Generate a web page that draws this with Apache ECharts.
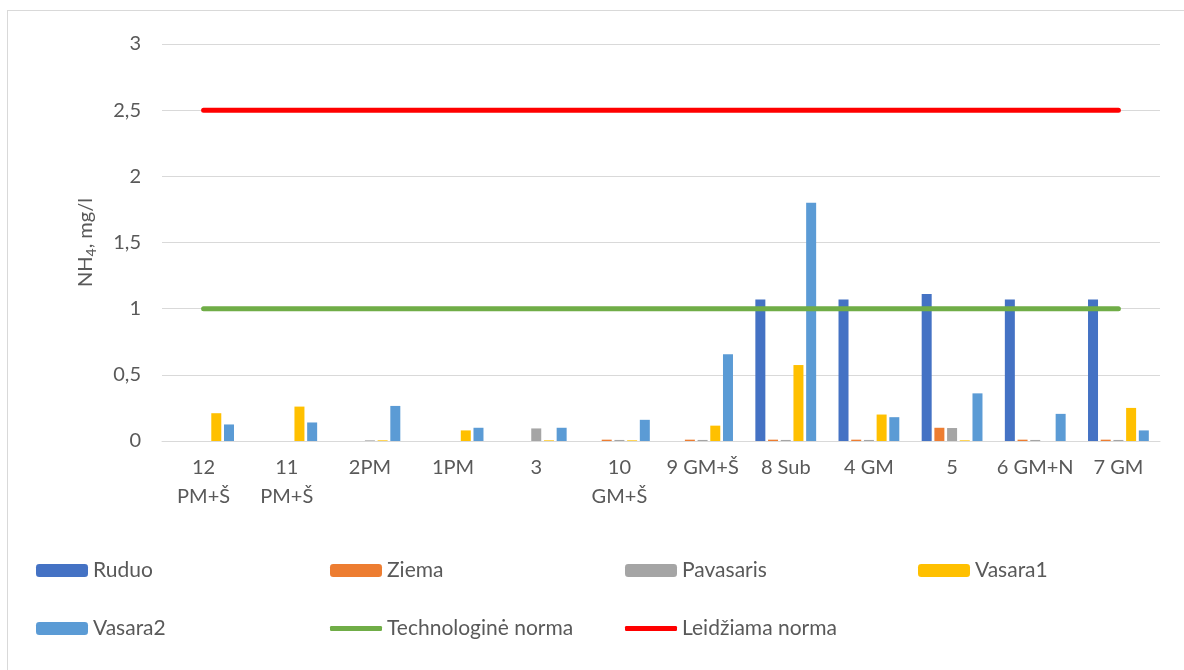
<!DOCTYPE html>
<html>
<head>
<meta charset="utf-8">
<script src="https://cdn.jsdelivr.net/npm/echarts@6/dist/echarts.min.js"></script>
<style>
  html, body { margin: 0; padding: 0; background: #fff; }
  #frame { position: absolute; left: 7px; top: 10px; width: 1200px; height: 700px;
           border-left: 1px solid #d9d9d9; border-top: 1px solid #d9d9d9; }
  #main { position: absolute; left: 0; top: 0; width: 1184px; height: 670px; }
</style>
</head>
<body>
<div id="frame"></div>
<div id="main"></div>
<script>
// kategorijos (x ašis)
const categories = ['12\nPM+Š', '11\nPM+Š', '2PM', '1PM', '3', '10\nGM+Š', '9 GM+Š', '8 Sub', '4 GM', '5', '6 GM+N', '7 GM'];
// sezonų reikšmės, mg/l
const ruduo     = [null, null, null, null, null, null, null, 1.07, 1.07, 1.11, 1.07, 1.07];
const ziema     = [null, null, null, null, null, 0.01, 0.01, 0.01, 0.01, 0.1, 0.01, 0.01];
const pavasaris = [null, null, 0.005, null, 0.095, 0.008, 0.008, 0.008, 0.008, 0.098, 0.008, 0.008];
const vasara1   = [0.21, 0.26, 0.005, 0.08, 0.005, 0.005, 0.116, 0.574, 0.2, 0.005, null, 0.25];
const vasara2   = [0.125, 0.14, 0.265, 0.1, 0.1, 0.16, 0.655, 1.8, 0.18, 0.36, 0.205, 0.08];
// normos
const technologineNorma = [1, 1, 1, 1, 1, 1, 1, 1, 1, 1, 1, 1];
const leidziamaNorma    = [2.5, 2.5, 2.5, 2.5, 2.5, 2.5, 2.5, 2.5, 2.5, 2.5, 2.5, 2.5];

const FONT = 'Lato';
const TXT = '#595959';

var myChart = echarts.init(document.getElementById('main'));

const bar = (name, data, color) => ({
  name, type: 'bar', data, barWidth: 10, barGap: '27%',
  itemStyle: { color }
});
const line = (name, data, color) => ({
  name, type: 'line', data, symbol: 'none', z: 5,
  lineStyle: { color, width: 5, cap: 'round' }, itemStyle: { color }
});

// vienas legendos elementas = viena legenda, kad stulpeliai būtų išlygiuoti
const leg = (name, left, top, isLine) => ({
  data: [isLine ? { name, icon: 'roundRect' } : name],
  left, top, padding: 0,
  itemWidth: 52, itemHeight: isLine ? 5 : 13, itemGap: 0,
  textStyle: { fontFamily: FONT, fontSize: 21, color: TXT, padding: [0, 0, 0, 0] },
  selectedMode: false
});

var option = {
  animation: false,
  textStyle: { fontFamily: FONT },
  grid: { left: 162, right: 24, top: 44, bottom: 229 },
  legend: [
    leg('Ruduo', 36, 560),
    leg('Ziema', 330, 560),
    leg('Pavasaris', 625, 560),
    leg('Vasara1', 918, 560),
    leg('Vasara2', 36, 618),
    leg('Technologinė norma', 330, 618, true),
    leg('Leidžiama norma', 625, 618, true)
  ],
  xAxis: {
    type: 'category',
    data: categories,
    axisLine: { lineStyle: { color: '#d9d9d9' } },
    axisTick: { show: false },
    axisLabel: { interval: 0, margin: 12, fontSize: 20, color: TXT, lineHeight: 29, fontFamily: FONT }
  },
  yAxis: {
    type: 'value',
    min: 0, max: 3, interval: 0.5,
    name: '{a|NH}{s|4}{a|, mg/l}',
    nameLocation: 'middle',
    nameRotate: 90,
    nameGap: 66,
    nameTextStyle: {
      rich: {
        a: { fontSize: 20, lineHeight: 24, color: TXT, fontFamily: FONT, verticalAlign: 'bottom' },
        s: { fontSize: 14, lineHeight: 14, color: TXT, fontFamily: FONT, verticalAlign: 'top', padding: [12, 0, 0, 0] }
      }
    },
    axisLine: { show: false },
    axisTick: { show: false },
    splitLine: { lineStyle: { color: '#d9d9d9' } },
    axisLabel: {
      margin: 21, fontSize: 20, color: TXT, fontFamily: FONT,
      formatter: v => String(v).replace('.', ',')
    }
  },
  series: [
    bar('Ruduo', ruduo, '#4472c4'),
    bar('Ziema', ziema, '#ed7d31'),
    bar('Pavasaris', pavasaris, '#a5a5a5'),
    bar('Vasara1', vasara1, '#ffc000'),
    bar('Vasara2', vasara2, '#5b9bd5'),
    line('Technologinė norma', technologineNorma, '#70ad47'),
    line('Leidžiama norma', leidziamaNorma, '#ff0000')
  ]
};

myChart.setOption(option);
</script>
</body>
</html>
